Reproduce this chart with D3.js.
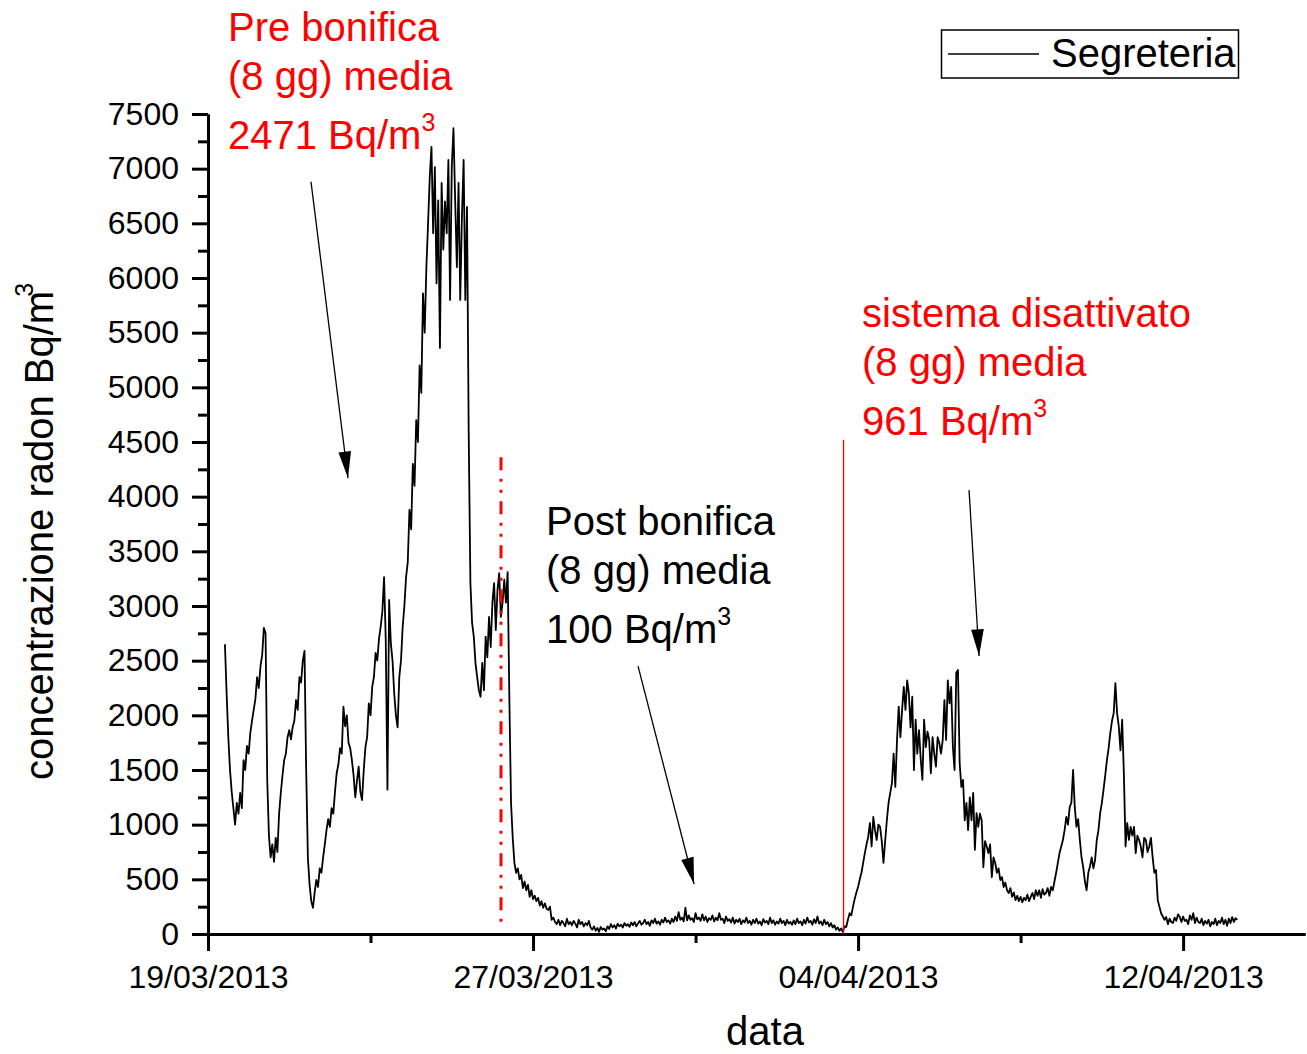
<!DOCTYPE html>
<meta charset="utf-8">
<style>
  body {
    margin: 0;
    background-color: white;
  }

  svg {
    display: block;
    font-family: "Liberation Sans", Arial, sans-serif;
  }

  .axis path,
  .axis line {
    fill: none;
    stroke: #000;
    stroke-width: 3;
  }
</style>

<body>
  <svg id="chart" width="1307" height="1054"></svg>

  <script src="https://d3js.org/d3.v7.min.js" charset="utf-8"></script>

  <script>
    // hourly readings, the first one on 19/03/2013 at 10:00
    var startTime = Date.UTC(2013, 2, 19, 10);

    // before the works (19/03 - 26/03)
    var preBonifica = [
      2650, 2200, 1800, 1500, 1300, 1150, 1000, 1200, 1100, 1290, 1150, 1590, 1500, 1720, 1650, 1840, 1950, 2050, 2150, 2350, 2250, 2450, 2550, 2800,
      2750, 1400, 900, 700, 820, 660, 880, 750, 1100, 1290, 1450, 1590, 1650, 1800, 1865, 1780, 1890, 1950, 2140, 2050, 2350, 2300, 2500, 2590,
      1500, 700, 450, 300, 240, 380, 494, 430, 600, 560, 700, 820, 950, 1050, 980, 1150, 1100, 1300, 1470, 1550, 1700, 1650, 2080, 1900,
      2000, 1750, 1700, 1590, 1450, 1250, 1400, 1530, 1300, 1225, 1500, 1710, 1800, 2110, 2000, 2260, 2350, 2570, 2500, 2700, 2810, 2950, 3265, 2690,
      1320, 3055, 2660, 2500, 2200, 2000, 1890, 2350, 2500, 2810, 3000, 3265, 3400, 3880, 3700, 4300, 4100, 4700, 4500, 5200, 4950, 5860, 5500, 6100,
      6500, 6925, 7200, 6410, 7015, 5950, 6710, 5360, 6870, 6260, 6700, 6410, 7080, 5800, 7015, 7370, 6710, 6100, 6870, 5800, 6560, 7080, 5800, 6650,
      4580, 3210, 2845, 2720, 2480, 2350, 2230, 2170, 2480, 2230, 2720, 2530, 2900, 2625, 3030, 3210, 2780, 3145, 3300, 2900, 3030, 3240, 3030, 3310
    ];

    // system running (26/03 - 03/04)
    var postBonifica = [
      2170, 1200, 880, 650, 560, 600, 500, 540, 420, 480, 400, 450, 340, 400, 320, 350, 300, 330, 260, 300, 240, 280, 230, 220,
      250, 130, 150, 110, 90, 130, 80, 120, 100, 70, 140, 90, 110, 80, 120, 95, 60, 130, 90, 110, 70, 100, 80, 120,
      60, 40, 70, 30, 55, 20, 65, 40, 50, 25, 70, 45, 90, 60, 80, 50, 95, 70, 85, 60, 100, 75, 90, 65,
      105, 80, 110, 70, 95, 120, 85, 100, 130, 90, 110, 75, 125, 100, 140, 95, 115, 85, 130, 105, 150, 110, 125, 95,
      140, 110, 160, 120, 200, 130, 150, 115, 240, 125, 170, 130, 145, 110, 190, 135, 150, 120, 180, 125, 160, 110, 145, 130,
      170, 115, 150, 125, 190, 130, 140, 100, 160, 120, 135, 105, 150, 95, 130, 110, 140, 90, 125, 105, 150, 100, 120, 85,
      130, 100, 140, 95, 115, 80, 135, 105, 120, 90, 150, 100, 125, 85, 115, 95, 140, 100, 120, 80, 130, 95, 110, 85,
      125, 90, 140, 100, 115, 80, 130, 95, 150, 105, 120, 85, 135, 100, 160, 95, 115, 80, 130, 90, 110, 70, 100, 60,
      80, 40, 60, 30, 50, 20, 70, 64, 130, 190, 170, 250, 320, 380, 430, 500, 560, 650, 740, 820, 890, 1015, 800, 1070
    ];

    // system switched off (03/04 - 13/04)
    var sistemaOff = [
      950, 860, 1000, 980, 850, 650, 850, 1040, 1200, 1290, 1380, 1650, 1345, 1775, 2080, 1800, 2050, 2260, 2050, 2320, 2200, 1890, 2170, 1500,
      1960, 1650, 1865, 1600, 1410, 1960, 1710, 1850, 1775, 1470, 1800, 1650, 1530, 1800, 1745, 1650, 1775, 2140, 1775, 2320, 2110, 2260, 1710, 1500,
      2390, 2415, 1565, 1345, 1410, 1040, 1200, 950, 1250, 1040, 1290, 770, 1105, 980, 1100, 1040, 610, 850, 800, 740, 820, 520, 700, 650,
      560, 600, 494, 520, 430, 470, 400, 375, 420, 340, 380, 310, 350, 300, 340, 290, 330, 310, 360, 300, 340, 375, 320, 400,
      350, 400, 330, 410, 360, 375, 420, 350, 430, 400, 480, 560, 650, 740, 800, 860, 950, 1070, 1000, 1160, 1200, 1500, 1160, 980,
      1050, 860, 700, 610, 480, 400, 560, 620, 700, 600, 677, 860, 950, 1105, 1200, 1320, 1450, 1590, 1700, 1840, 1950, 2020, 2295, 2020,
      1900, 1680, 1960, 1470, 800, 1015, 860, 980, 900, 980, 740, 900, 860, 800, 700, 880, 860, 750, 800, 880, 700, 560, 585, 310,
      250, 190, 160, 130, 155, 90, 140, 110, 100, 150, 120, 180, 155, 110, 160, 120, 130, 90, 170, 130, 190, 100, 150, 110,
      100, 140, 80, 120, 95, 130, 70, 110, 90, 140, 80, 120, 100, 150, 90, 130, 75, 140, 100, 155, 110, 145, 130
    ];

    var xLabels = ["19/03/2013", "27/03/2013", "04/04/2013", "12/04/2013"];
    var xMinorLabels = ["23/03/2013", "31/03/2013", "08/04/2013"];
    var yMajor = [0, 500, 1000, 1500, 2000, 2500, 3000, 3500, 4000, 4500, 5000, 5500, 6000, 6500, 7000, 7500];

    // vertical markers: start of the works and switch-off
    var cutoffLine = { time: Date.UTC(2013, 2, 26, 5, 5), low: 50, high: 4360 };
    var switchOffLine = { time: Date.UTC(2013, 3, 3, 15, 25), low: 0, high: 4520 };

    var notes = [
      { lines: ["Pre bonifica", "(8 gg) media", "2471 Bq/m"], time: Date.UTC(2013, 2, 19, 11, 48), value: 8168, red: true },
      { lines: ["Post bonifica", "(8 gg) media", "100 Bq/m"], time: Date.UTC(2013, 2, 27, 7, 41), value: 3650, red: false },
      { lines: ["sistema disattivato", "(8 gg) media", "961 Bq/m"], time: Date.UTC(2013, 3, 4, 2, 21), value: 5552, red: true }
    ];

    var arrows = [
      { t0: Date.UTC(2013, 2, 21, 12, 50), v0: 6880, t1: Date.UTC(2013, 2, 22, 10, 42), v1: 4170 },
      { t0: Date.UTC(2013, 2, 29, 14, 2), v0: 2450, t1: Date.UTC(2013, 2, 30, 23, 7), v1: 457 },
      { t0: Date.UTC(2013, 3, 6, 17, 34), v0: 4060, t1: Date.UTC(2013, 3, 6, 23, 28), v1: 2543 }
    ];

    var parseDay = d3.utcParse("%d/%m/%Y");
    var formatDay = d3.utcFormat("%d/%m/%Y");

    var series = preBonifica.concat(postBonifica, sistemaOff).map(function (v, i) {
      return { t: new Date(startTime + i * 3600e3), v: v };
    });

    var svg = d3.select("#chart");

    var x = d3.scaleUtc()
      .domain([Date.UTC(2013, 2, 19), Date.UTC(2013, 3, 15)])
      .range([208, 1305]);

    var y = d3.scaleLinear().domain([0, 7500]).range([934, 114]);

    var red = "#ff0000";

    // x axis
    svg.append("g")
      .attr("class", "axis")
      .attr("transform", "translate(0,934)")
      .call(d3.axisBottom(x).tickValues(xMinorLabels.map(parseDay)).tickSize(9).tickSizeOuter(0).tickFormat(""));

    svg.append("g")
      .attr("class", "axis")
      .attr("transform", "translate(0,934)")
      .call(d3.axisBottom(x).tickValues(xLabels.map(parseDay)).tickSize(17).tickPadding(14)
        .tickSizeOuter(0).tickFormat(formatDay))
      .call(g => g.selectAll("text").attr("font-size", 32).attr("font-family", "Liberation Sans, Arial, sans-serif"));

    // y axis
    svg.append("g")
      .attr("class", "axis")
      .attr("transform", "translate(208,0)")
      .call(d3.axisLeft(y).tickValues(yMajor.slice(0, -1).map(d => d + 250)).tickSize(10).tickSizeOuter(0).tickFormat(""));

    svg.append("g")
      .attr("class", "axis")
      .attr("transform", "translate(208,0)")
      .call(d3.axisLeft(y).tickValues(yMajor).tickSize(16).tickPadding(13).tickSizeOuter(0).tickFormat(d3.format("d")))
      .call(g => g.selectAll("text").attr("font-size", 32).attr("font-family", "Liberation Sans, Arial, sans-serif"));

    // axis titles
    svg.append("text")
      .attr("x", 765)
      .attr("y", 1045)
      .attr("text-anchor", "middle")
      .attr("font-size", 40)
      .text("data");

    var yTitle = svg.append("text")
      .attr("transform", "translate(53,780) rotate(-90)")
      .attr("font-size", 40)
      .text("concentrazione radon Bq/m");
    yTitle.append("tspan")
      .attr("font-size", 25)
      .attr("dx", -6)
      .attr("dy", -20)
      .text("3");

    // data
    var line = d3.line()
      .x(d => x(d.t))
      .y(d => y(d.v));

    svg.append("path")
      .datum(series)
      .attr("fill", "none")
      .attr("stroke", "#000")
      .attr("stroke-width", 1.8)
      .attr("stroke-linejoin", "round")
      .attr("d", line);

    // markers
    svg.append("line")
      .attr("x1", x(cutoffLine.time)).attr("x2", x(cutoffLine.time))
      .attr("y1", y(cutoffLine.high)).attr("y2", y(cutoffLine.low))
      .attr("stroke", red)
      .attr("stroke-width", 3)
      .attr("stroke-dasharray", "13 8.5 3 8 3 8.5");

    svg.append("line")
      .attr("x1", x(switchOffLine.time)).attr("x2", x(switchOffLine.time))
      .attr("y1", y(switchOffLine.high)).attr("y2", y(switchOffLine.low))
      .attr("stroke", red)
      .attr("stroke-width", 1.3);

    // arrows
    svg.append("defs").append("marker")
      .attr("id", "head")
      .attr("markerUnits", "userSpaceOnUse")
      .attr("markerWidth", 30)
      .attr("markerHeight", 20)
      .attr("viewBox", "-24 -7 26 14")
      .attr("refX", 0)
      .attr("refY", 0)
      .attr("orient", "auto")
      .append("path")
      .attr("d", "M0,0L-23,-5.5L-23,5.5Z")
      .attr("fill", "#000");

    svg.selectAll(".arrow")
      .data(arrows)
      .enter().append("line")
      .attr("class", "arrow")
      .attr("x1", d => x(d.t0)).attr("y1", d => y(d.v0))
      .attr("x2", d => x(d.t1)).attr("y2", d => y(d.v1))
      .attr("stroke", "#000")
      .attr("stroke-width", 1.3)
      .attr("marker-end", "url(#head)");

    // notes
    var lineOffsets = [0, 49, 108];
    notes.forEach(function (n) {
      n.lines.forEach(function (txt, i) {
        var t = svg.append("text")
          .attr("x", x(n.time))
          .attr("y", y(n.value) + lineOffsets[i])
          .attr("font-size", 40)
          .attr("fill", n.red ? red : "#000")
          .text(txt);
        if (i == 2) {
          t.append("tspan").attr("font-size", 25).attr("dy", -18).text("3");
        }
      });
    });

    // legend
    var legend = svg.append("g");
    legend.append("rect")
      .attr("x", 941.5).attr("y", 30)
      .attr("width", 297).attr("height", 48)
      .attr("fill", "none")
      .attr("stroke", "#000")
      .attr("stroke-width", 1.5);
    legend.append("line")
      .attr("x1", 948).attr("x2", 1039)
      .attr("y1", 54).attr("y2", 54)
      .attr("stroke", "#000")
      .attr("stroke-width", 1.3);
    legend.append("text")
      .attr("x", 1051).attr("y", 67)
      .attr("font-size", 40)
      .text("Segreteria");
  </script>
</body>

</html>
